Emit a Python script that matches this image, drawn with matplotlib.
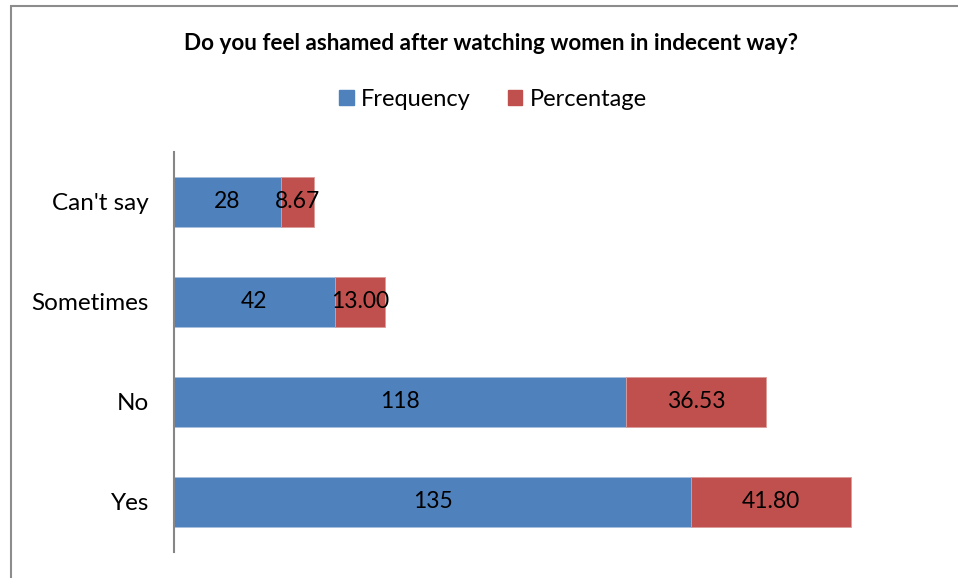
"""Stacked horizontal bar: feeling ashamed after watching women in indecent way."""
import matplotlib
matplotlib.use("Agg")
import matplotlib.pyplot as plt
import matplotlib.patches as mpatches

plt.rcParams["font.family"] = ["Lato", "DejaVu Sans"]

categories = ["Yes", "No", "Sometimes", "Can't say"]
frequency  = [135, 118, 42, 28]
percentage = [41.80, 36.53, 13.00, 8.67]

BLUE = "#4F81BD"
RED  = "#C0504D"
AXIS = "#868686"

fig = plt.figure(figsize=(9.58, 5.78), dpi=100, facecolor="white")

# outer chart border (only left/top visible in the crop)
fig.add_artist(mpatches.Rectangle((11 / 958, -0.05), 1.2, (578 - 6) / 578 + 0.05,
                                  transform=fig.transFigure, facecolor="none",
                                  edgecolor="#8c8c8c", linewidth=1.5))

fig.text(491 / 958, 1 - 43 / 578, "Do you feel ashamed after watching women in indecent way?",
         ha="center", va="center", fontsize=16.2, fontweight="bold", color="black")

ax = fig.add_axes([174 / 958, 1 - 552 / 578, (940 - 174) / 958, 400 / 578])
y = list(range(len(categories)))
b1 = ax.barh(y, frequency, height=0.5, color=BLUE, edgecolor="#a9c0de", linewidth=0.6)
b2 = ax.barh(y, percentage, left=frequency, height=0.5, color=RED,
             edgecolor="#dc9a98", linewidth=0.6)

ax.bar_label(b1, labels=[str(v) for v in frequency], label_type="center",
             fontsize=16.5, color="black")
ax.bar_label(b2, labels=[f"{v:.2f}" for v in percentage], label_type="center",
             fontsize=16.5, color="black")

ax.set_xlim(0, 200)
ax.set_ylim(-0.5, len(categories) - 0.5)
ax.set_yticks(y)
ax.set_yticklabels(categories, fontsize=17.5)
ax.tick_params(axis="y", length=0, pad=18)
ax.set_xticks([])
for s in ("top", "right", "bottom"):
    ax.spines[s].set_visible(False)
ax.spines["left"].set_color(AXIS)
ax.spines["left"].set_linewidth(1.5)

handles = [mpatches.Patch(color=BLUE, label="Frequency"),
           mpatches.Patch(color=RED, label="Percentage")]
fig.legend(handles=handles, loc="center", bbox_to_anchor=(493 / 958, 1 - 99 / 578),
           ncol=2, frameon=False, fontsize=17, handlelength=0.6, handleheight=0.6,
           handletextpad=0.3, columnspacing=1.6)

fig.savefig("out.png", dpi=100, facecolor=fig.get_facecolor())
plt.close(fig)
